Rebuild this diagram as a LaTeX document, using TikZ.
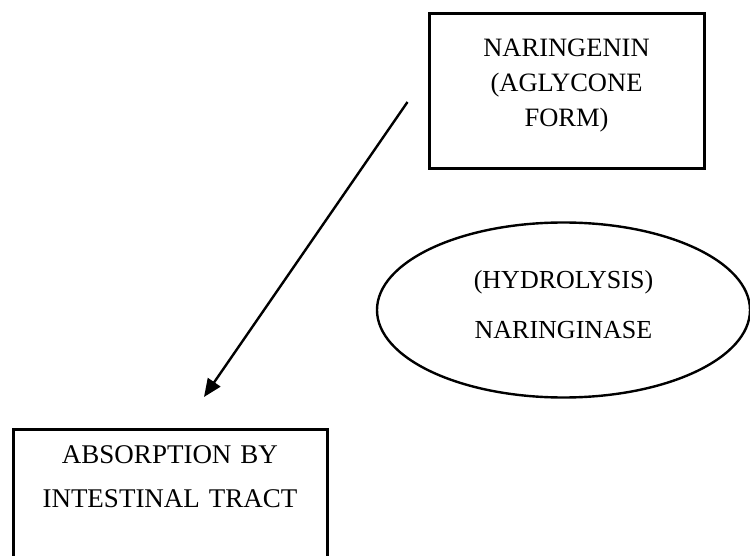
\documentclass[tikz,border=0pt]{standalone}
\usepackage{fontspec}
\setmainfont{Liberation Serif}
\usetikzlibrary{shapes.geometric,arrows.meta}

\begin{document}
\begin{tikzpicture}[x=1pt, y=-1pt,
  box/.style={draw, line width=3pt, rectangle, inner sep=0pt, align=center, anchor=north},
  enzyme/.style={draw, line width=2.4pt, ellipse, inner sep=0pt, align=center, minimum width=373pt, minimum height=175pt}]
\useasboundingbox (0,0) rectangle (750,556);
\node (aglycone)[box, text width=275pt, text height=43pt, text depth=112pt, font=\fontsize{26.5}{35}\selectfont] at (566.5,12) {NARINGENIN\\(AGLYCONE\\FORM)};
\node (hydrolysis)[enzyme, text width=200pt, text height=20pt, text depth=64pt, font=\fontsize{26}{51}\selectfont] at (563.5,310) {(HYDROLYSIS)\\NARINGINASE};
\node (absorption)[box, text width=314pt, text height=34pt, text depth=126pt, font=\fontsize{27}{44}\selectfont] at (170,428) {ABSORPTION BY\\INTESTINAL TRACT};
\draw[-{Triangle[length=18pt, width=15pt]}, line width=2.4pt] ([xshift=-20pt, yshift=-11pt]aglycone.west) -- ([xshift=34pt, yshift=31pt]absorption.north);
\end{tikzpicture}
\end{document}
